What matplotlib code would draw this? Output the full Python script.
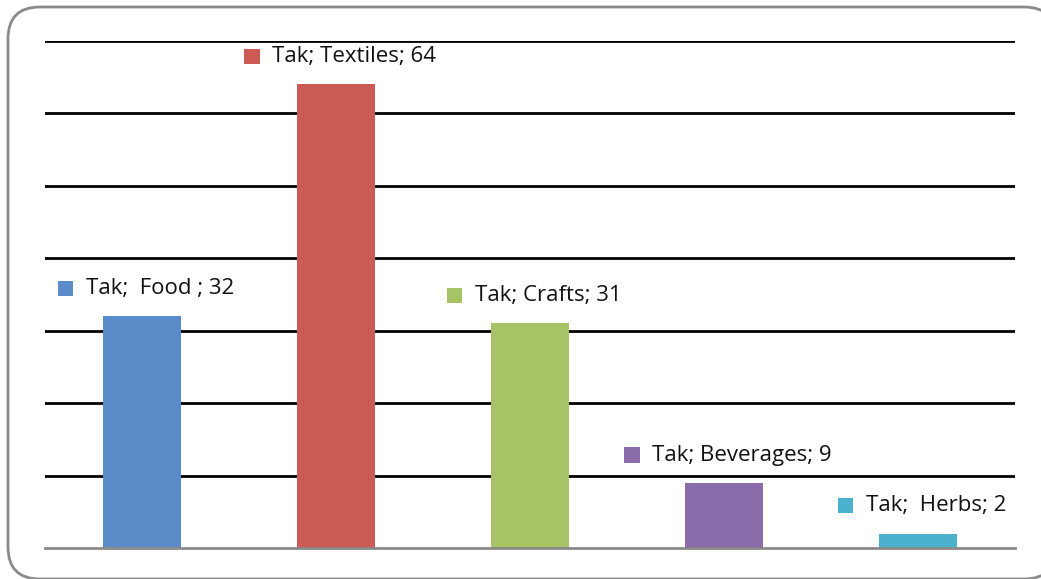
import matplotlib.pyplot as plt
from matplotlib.patches import FancyBboxPatch, Rectangle
from matplotlib.offsetbox import AnnotationBbox, DrawingArea, HPacker, TextArea

categories = ['Food', 'Textiles', 'Crafts', 'Beverages', 'Herbs']
label_names = ['Tak;  Food ;', 'Tak; Textiles;', 'Tak; Crafts;', 'Tak; Beverages;', 'Tak;  Herbs;']
values = [32, 64, 31, 9, 2]
colors = ['#5B8BC9', '#CC5A55', '#A6C366', '#8B6CAB', '#4BB1CD']

plt.rcParams['font.family'] = ['Open Sans', 'DejaVu Sans']

fig = plt.figure(figsize=(10.41, 5.79), dpi=100)

# background layer in pixel units for the rounded frame (runs off right/bottom edge)
bg = fig.add_axes([0, 0, 1, 1], zorder=0)
bg.set_xlim(0, 1041)
bg.set_ylim(579, 0)
bg.axis('off')
bg.add_patch(FancyBboxPatch((8, 7), 1048, 572,
                            boxstyle='round,pad=0,rounding_size=32',
                            facecolor='white', edgecolor='#8a8a8a', linewidth=2))

ax = fig.add_axes([45 / 1041, 1 - 548 / 579, 970 / 1041, 507 / 579], zorder=1)
ax.set_facecolor('none')

x = range(len(categories))
ax.bar(x, values, width=0.4, color=colors, zorder=3)

ax.set_xlim(-0.5, len(categories) - 0.5)
ax.set_ylim(0, 70)
ax.set_yticks(range(10, 71, 10))
ax.yaxis.grid(True, color='black', linewidth=2)
ax.set_axisbelow(True)
ax.tick_params(left=False, bottom=False, labelleft=False, labelbottom=False)
for side in ['top', 'right', 'left']:
    ax.spines[side].set_visible(False)
ax.spines['bottom'].set_color('#8a8a8a')
ax.spines['bottom'].set_linewidth(2)
ax.spines['bottom'].set_zorder(4)

# value labels with a colored key square
for i, (name, val, col) in enumerate(zip(label_names, values, colors)):
    key = DrawingArea(11, 11, 0, 0)
    key.add_artist(Rectangle((0, 0), 11, 11, facecolor=col, edgecolor='none'))
    txt = TextArea(f'{name} {val}', textprops=dict(fontsize=16, color='#111111'))
    box = HPacker(children=[key, txt], align='center', pad=0, sep=9)
    ab = AnnotationBbox(box, (i, val), xybox=(3, 20), xycoords='data',
                        boxcoords='offset points', frameon=False,
                        box_alignment=(0.5, 0.5))
    ax.add_artist(ab)

fig.savefig('out.png', dpi=100)
